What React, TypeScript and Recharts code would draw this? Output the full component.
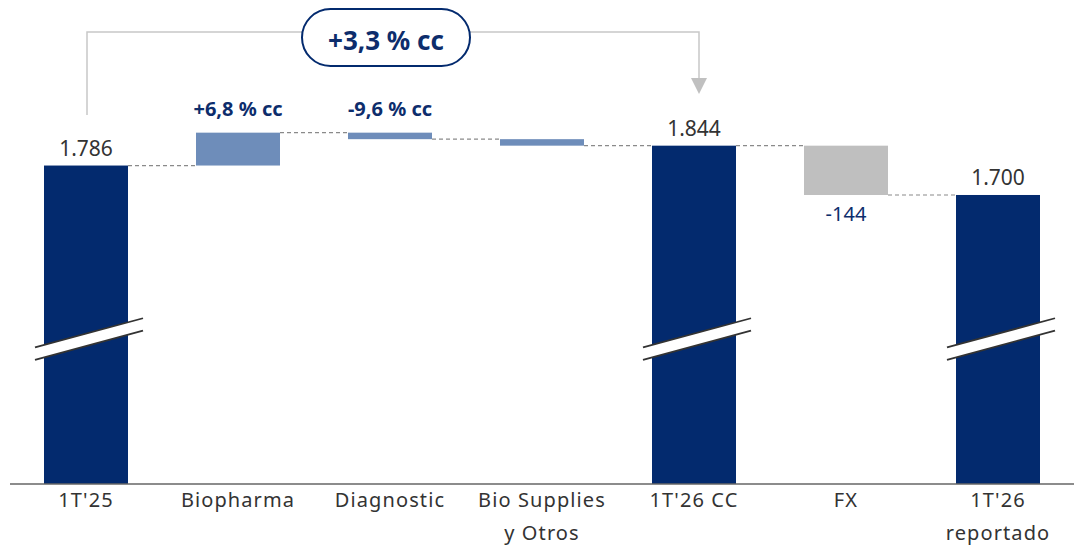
import React from 'react';
import { BarChart, Bar, XAxis, YAxis, LabelList, Customized } from 'recharts';

const categories = ["1T'25", 'Biopharma', 'Diagnostic', 'Bio Supplies\ny Otros', "1T'26 CC", 'FX', "1T'26\nreportado"];
const values = [1786, 96, -19, -19, 1844, -144, 1700];
const kinds = ['total', 'delta', 'delta', 'delta', 'total', 'fx', 'total'];
const valueLabels = ['1.786', '+6,8 % cc', '-9,6 % cc', '', '1.844', '-144', '1.700'];
const bridgeLabel = '+3,3 % cc';

const AXIS_MIN = 856;
const AXIS_MAX = 2211;
const BREAK_VALUE = 1277;

const W = 1074;
const H = 548;
const M = { top: 20, right: 0, bottom: 0, left: 10 };
const BAND = (W - M.left - M.right) / categories.length;

const NAVY = '#032A6E';
const LIGHT = '#6E8DBA';
const GREY = '#BFBFBF';
const LABEL_BLUE = '#0D2D6C';
const TEXT = '#333333';
const FONT = '"Noto Sans", sans-serif';

// build waterfall ranges
let running = 0;
const data = categories.map((name, i) => {
  const v = values[i];
  let range: [number, number];
  let delta = 0;
  if (kinds[i] === 'total') {
    range = [AXIS_MIN, v];
    running = v;
  } else {
    const start = running;
    running = start + v;
    delta = v;
    range = [Math.min(start, running), Math.max(start, running)];
  }
  return { name, range, kind: kinds[i], delta, value: v, label: valueLabels[i] };
});

const WaterfallBar = (props: any) => {
  const { x, y, width, height, index, payload } = props;
  const fill = payload.kind === 'total' ? NAVY : payload.kind === 'fx' ? GREY : LIGHT;
  const endY = payload.delta < 0 ? y + height : y;
  const last = index === data.length - 1;
  let brk = null;
  if (payload.kind === 'total') {
    const ppu = height / (payload.value - AXIS_MIN);
    const cy = y + height - (BREAK_VALUE - AXIS_MIN) * ppu;
    const x0 = x - 9;
    const x1 = x + width + 15;
    const slope = -0.27;
    const cx = x + width / 2;
    const yAt = (xx: number) => cy + (xx - cx) * slope;
    const g = 6.2;
    brk = (
      <g>
        <polygon
          points={`${x0},${yAt(x0) - g} ${x1},${yAt(x1) - g} ${x1},${yAt(x1) + g} ${x0},${yAt(x0) + g}`}
          fill="#fff"
        />
        <line x1={x0} y1={yAt(x0) - g} x2={x1} y2={yAt(x1) - g} stroke="#333" strokeWidth={1.8} />
        <line x1={x0} y1={yAt(x0) + g} x2={x1} y2={yAt(x1) + g} stroke="#333" strokeWidth={1.8} />
      </g>
    );
  }
  return (
    <g>
      <rect x={x} y={y} width={width} height={height} fill={fill} />
      {!last && (
        <line
          x1={x + width}
          y1={endY}
          x2={x + BAND}
          y2={endY}
          stroke="#8a8a8a"
          strokeWidth={1.2}
          strokeDasharray="4 3"
        />
      )}
      {brk}
    </g>
  );
};

const ValueLabel = (props: any) => {
  const { x, y, width, height, index } = props;
  const d = data[index];
  if (!d.label) return null;
  const cx = x + width / 2;
  if (d.kind === 'total') {
    return (
      <text x={cx} y={y - 10} textAnchor="middle" fill={TEXT} fontSize={21} fontFamily={FONT}>
        {d.label}
      </text>
    );
  }
  if (d.kind === 'fx') {
    return (
      <text x={cx} y={y + height + 26} textAnchor="middle" fill={LABEL_BLUE} fontSize={20} fontFamily={FONT}>
        {d.label}
      </text>
    );
  }
  return (
    <text x={cx} y={116} textAnchor="middle" fill={LABEL_BLUE} fontSize={20} fontWeight={700} fontFamily={FONT}>
      {d.label}
    </text>
  );
};

const CategoryTick = (props: any) => {
  const { x, y, payload } = props;
  const lines = String(payload.value).split('\n');
  return (
    <text x={x} y={y} textAnchor="middle" fill={TEXT} fontSize={20} fontFamily={FONT} letterSpacing={1.1}>
      {lines.map((l, i) => (
        <tspan key={i} x={x} dy={i === 0 ? 15 : 33}>
          {l}
        </tspan>
      ))}
    </text>
  );
};

const Bracket = () => {
  const xl = M.left + BAND * 0.5 + 1;
  const xr = M.left + BAND * 4.5 + 5;
  const top = 32;
  const pillCx = 386;
  return (
    <g>
      <path d={`M${xl},115 L${xl},${top} L${xr},${top} L${xr},80`} fill="none" stroke="#c8c8c8" strokeWidth={1.5} />
      <polygon points={`${xr - 8},78 ${xr + 8},78 ${xr},94`} fill="#c0c0c0" />
      <rect x={pillCx - 84} y={9} width={168} height={57} rx={28.5} fill="#fff" stroke={NAVY} strokeWidth={2} />
      <text x={pillCx} y={50} textAnchor="middle" fill={LABEL_BLUE} fontSize={26} fontWeight={700} fontFamily={FONT}>
        {bridgeLabel}
      </text>
    </g>
  );
};

export default function App() {
  return (
    <div style={{ position: 'absolute', left: 0, top: 0, background: '#fff' }}>
      <BarChart width={W} height={H} data={data} margin={M} barSize={84}>
        <XAxis
          dataKey="name"
          interval={0}
          tickLine={false}
          axisLine={{ stroke: '#666', strokeWidth: 1.5 }}
          height={64}
          tick={<CategoryTick />}
        />
        <YAxis hide domain={[AXIS_MIN, AXIS_MAX]} allowDataOverflow />
        <Bar dataKey="range" isAnimationActive={false} shape={<WaterfallBar />}>
          <LabelList dataKey="range" content={<ValueLabel />} />
        </Bar>
        <Customized component={<Bracket />} />
      </BarChart>
    </div>
  );
}
